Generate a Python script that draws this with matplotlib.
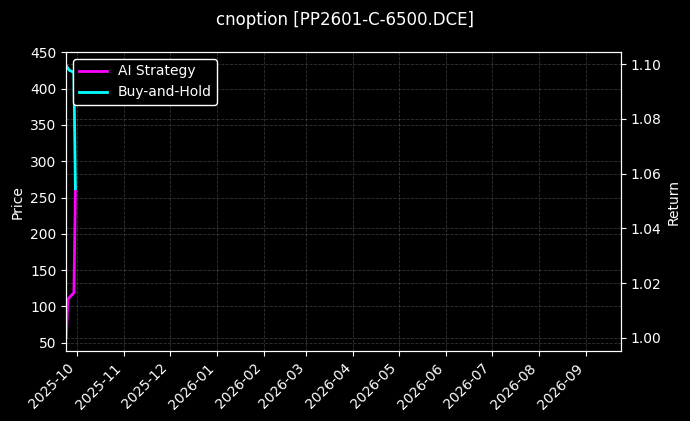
import matplotlib
matplotlib.use("Agg")
import matplotlib.pyplot as plt
import matplotlib.dates as mdates
import pandas as pd

dates = pd.to_datetime(["2025-09-24", "2025-09-25", "2025-09-26", "2025-09-29", "2025-09-30"])
ai_strategy = [1.0, 1.0139, 1.0147, 1.0164, 1.0535]
buy_and_hold = [1.0995, 1.0985, 1.0978, 1.0970, 1.0545]
price_ylim = (38.2, 450.4)
x_start = pd.Timestamp("2025-09-24")
x_end = pd.Timestamp("2026-09-24")

plt.style.use("dark_background")
fig = plt.figure(figsize=(6.9, 4.21), dpi=100)
ax1 = fig.add_axes([66.3 / 690, 1 - 351.3 / 421, (620.7 - 66.3) / 690, (351.3 - 52) / 421])
ax2 = ax1.twinx()

ax1.set_ylim(*price_ylim)
ax1.set_ylabel("Price", fontsize=10)
ax1.grid(True, linestyle="--", linewidth=0.6, color="gray", alpha=0.4)

ax2.plot(dates, ai_strategy, color="#ff00ff", linewidth=2, label="AI Strategy")
ax2.plot(dates, buy_and_hold, color="#00ffff", linewidth=2, label="Buy-and-Hold")
ax2.set_ylabel("Return", fontsize=10)
ax2.grid(True, linestyle="--", linewidth=0.6, color="gray", alpha=0.4)

ax1.set_xlim(x_start, x_end)
ax1.xaxis.set_major_locator(mdates.MonthLocator())
ax1.xaxis.set_major_formatter(mdates.DateFormatter("%Y-%m"))
for lab in ax1.get_xticklabels():
    lab.set_rotation(45)
    lab.set_ha("right")

leg = ax2.legend(loc="upper left", facecolor="black", edgecolor="white", framealpha=1.0)

fig.suptitle("cnoption [PP2601-C-6500.DCE]", fontsize=12, y=0.975)
fig.savefig("out.png", dpi=100, facecolor="black")
